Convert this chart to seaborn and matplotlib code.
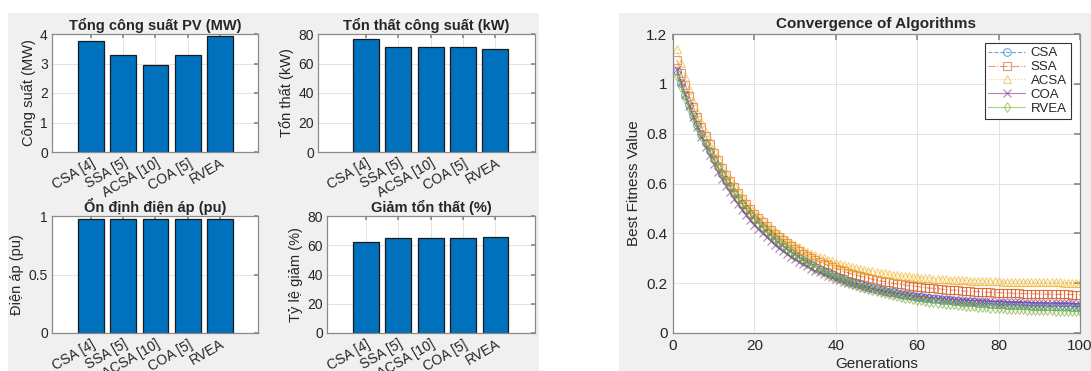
import seaborn as sns
import matplotlib.pyplot as plt
from matplotlib.patches import Rectangle

# Style: MATLAB-like look on top of seaborn whitegrid
sns.set_theme(style="whitegrid")
plt.rcParams['font.family'] = ['Liberation Sans', 'DejaVu Sans']
plt.rcParams['axes.edgecolor'] = '#8a8a8a'
plt.rcParams['grid.color'] = '#e3e3e3'
plt.rcParams['grid.linewidth'] = 0.7
plt.rcParams['xtick.color'] = '#8a8a8a'
plt.rcParams['ytick.color'] = '#8a8a8a'
plt.rcParams['xtick.labelcolor'] = '#262626'
plt.rcParams['ytick.labelcolor'] = '#262626'

# Data
algorithms = ['CSA [4]', 'SSA [5]', 'ACSA [10]', 'COA [5]', 'RVEA']
pv_power = [3.75, 3.28, 2.95, 3.28, 3.93]          # MW
power_loss = [76.7, 71.4, 71.4, 71.4, 70.1]        # kW
voltage = [0.975, 0.975, 0.975, 0.975, 0.975]      # pu
loss_reduction = [62.3, 65.0, 65.0, 65.0, 65.9]    # %

generations = list(range(1, 101))
csa = [1.050, 1.003, 0.957, 0.915, 0.874, 0.835, 0.798, 0.763, 0.730, 0.699,
       0.669, 0.640, 0.613, 0.588, 0.563, 0.540, 0.518, 0.497, 0.477, 0.459,
       0.441, 0.424, 0.407, 0.392, 0.377, 0.364, 0.350, 0.338, 0.326, 0.315,
       0.304, 0.294, 0.284, 0.275, 0.266, 0.258, 0.250, 0.243, 0.235, 0.229,
       0.222, 0.216, 0.210, 0.205, 0.199, 0.195, 0.190, 0.185, 0.181, 0.177,
       0.173, 0.170, 0.166, 0.163, 0.160, 0.157, 0.154, 0.151, 0.149, 0.146,
       0.144, 0.142, 0.140, 0.138, 0.136, 0.134, 0.132, 0.131, 0.129, 0.128,
       0.126, 0.125, 0.124, 0.123, 0.121, 0.120, 0.119, 0.118, 0.117, 0.116,
       0.115, 0.114, 0.113, 0.113, 0.112, 0.112, 0.111, 0.110, 0.110, 0.109,
       0.109, 0.109, 0.108, 0.108, 0.107, 0.107, 0.107, 0.106, 0.106, 0.106]
ssa = [1.096, 1.045, 0.997, 0.951, 0.908, 0.867, 0.828, 0.791, 0.757, 0.724,
       0.693, 0.663, 0.636, 0.609, 0.585, 0.561, 0.539, 0.518, 0.498, 0.479,
       0.461, 0.445, 0.429, 0.414, 0.399, 0.386, 0.373, 0.361, 0.350, 0.339,
       0.329, 0.319, 0.310, 0.301, 0.293, 0.285, 0.278, 0.271, 0.265, 0.258,
       0.253, 0.247, 0.242, 0.237, 0.232, 0.228, 0.223, 0.220, 0.216, 0.212,
       0.209, 0.206, 0.203, 0.200, 0.197, 0.195, 0.192, 0.190, 0.188, 0.186,
       0.184, 0.182, 0.180, 0.179, 0.177, 0.176, 0.174, 0.173, 0.172, 0.171,
       0.169, 0.168, 0.167, 0.166, 0.166, 0.165, 0.164, 0.163, 0.162, 0.162,
       0.161, 0.161, 0.160, 0.159, 0.159, 0.158, 0.158, 0.158, 0.157, 0.157,
       0.156, 0.156, 0.156, 0.155, 0.155, 0.155, 0.155, 0.154, 0.154, 0.154]
acsa = [1.139, 1.083, 1.029, 0.979, 0.932, 0.887, 0.846, 0.807, 0.770, 0.735,
        0.703, 0.672, 0.644, 0.617, 0.592, 0.568, 0.546, 0.525, 0.505, 0.487,
        0.469, 0.453, 0.438, 0.423, 0.410, 0.397, 0.385, 0.374, 0.363, 0.353,
        0.344, 0.335, 0.327, 0.319, 0.312, 0.305, 0.299, 0.293, 0.287, 0.282,
        0.277, 0.272, 0.268, 0.264, 0.260, 0.256, 0.253, 0.250, 0.247, 0.244,
        0.241, 0.239, 0.236, 0.234, 0.232, 0.230, 0.228, 0.227, 0.225, 0.224,
        0.222, 0.221, 0.220, 0.218, 0.217, 0.216, 0.215, 0.214, 0.213, 0.213,
        0.212, 0.211, 0.210, 0.210, 0.209, 0.209, 0.208, 0.208, 0.207, 0.207,
        0.206, 0.206, 0.206, 0.205, 0.205, 0.205, 0.204, 0.204, 0.204, 0.204,
        0.203, 0.203, 0.203, 0.203, 0.203, 0.202, 0.202, 0.202, 0.202, 0.202]
coa = [1.060, 1.007, 0.958, 0.911, 0.867, 0.825, 0.785, 0.748, 0.713, 0.680,
       0.648, 0.619, 0.591, 0.564, 0.539, 0.516, 0.494, 0.473, 0.453, 0.434,
       0.416, 0.400, 0.384, 0.369, 0.355, 0.341, 0.329, 0.317, 0.306, 0.295,
       0.285, 0.276, 0.267, 0.258, 0.250, 0.243, 0.236, 0.229, 0.223, 0.217,
       0.211, 0.206, 0.201, 0.196, 0.191, 0.187, 0.183, 0.179, 0.176, 0.172,
       0.169, 0.166, 0.163, 0.161, 0.158, 0.156, 0.154, 0.151, 0.149, 0.147,
       0.146, 0.144, 0.142, 0.141, 0.139, 0.138, 0.137, 0.136, 0.134, 0.133,
       0.132, 0.131, 0.130, 0.130, 0.129, 0.128, 0.127, 0.127, 0.126, 0.125,
       0.125, 0.124, 0.124, 0.123, 0.123, 0.122, 0.122, 0.122, 0.121, 0.121,
       0.121, 0.120, 0.120, 0.120, 0.119, 0.119, 0.119, 0.119, 0.118, 0.118]
rvea = [1.032, 0.987, 0.944, 0.903, 0.864, 0.826, 0.791, 0.757, 0.725, 0.694,
        0.665, 0.637, 0.611, 0.585, 0.561, 0.538, 0.517, 0.496, 0.476, 0.457,
        0.439, 0.422, 0.406, 0.390, 0.376, 0.361, 0.348, 0.335, 0.323, 0.312,
        0.301, 0.290, 0.280, 0.271, 0.262, 0.253, 0.245, 0.237, 0.229, 0.222,
        0.215, 0.209, 0.203, 0.197, 0.191, 0.186, 0.181, 0.176, 0.172, 0.167,
        0.163, 0.159, 0.155, 0.152, 0.148, 0.145, 0.142, 0.139, 0.136, 0.134,
        0.131, 0.129, 0.126, 0.124, 0.122, 0.120, 0.118, 0.116, 0.115, 0.113,
        0.111, 0.110, 0.108, 0.107, 0.106, 0.105, 0.103, 0.102, 0.101, 0.100,
        0.099, 0.098, 0.098, 0.097, 0.096, 0.095, 0.094, 0.094, 0.093, 0.092,
        0.092, 0.091, 0.091, 0.090, 0.090, 0.089, 0.089, 0.088, 0.088, 0.088]

series_names = ['CSA', 'SSA', 'ACSA', 'COA', 'RVEA']
series_values = [csa, ssa, acsa, coa, rvea]
series_colors = ['#0072BD', '#D95319', '#EDB120', '#7E2F8E', '#77AC30']
series_styles = ['--', '-.', ':', '-', '-']
series_markers = ['o', 's', '^', 'x', 'd']

W, H = 1091, 371
fig = plt.figure(figsize=(W / 100, H / 100), dpi=100)
fig.patch.set_facecolor('white')

# gray panels behind the two figure halves
for x0, x1 in [(8, 539), (619, 1091)]:
    fig.add_artist(Rectangle((x0 / W, 0), (x1 - x0) / W, (H - 13) / H,
                             transform=fig.transFigure, facecolor='#f0f0f0',
                             edgecolor='none', zorder=-10))


def px_axes(x0, y0, x1, y1):
    return fig.add_axes([x0 / W, 1 - y1 / H, (x1 - x0) / W, (y1 - y0) / H])


def bar_panel(ax, values, title, ylabel, ylim, yticks, yticklabels, xlim):
    sns.barplot(x=algorithms, y=values, ax=ax, color='#0072BD', saturation=1,
                edgecolor='#1a1a1a', linewidth=0.9, width=0.8, errorbar=None)
    ax.set_facecolor('white')
    ax.set_axisbelow(True)
    ax.grid(True, axis='both')
    ax.set_xlim(*xlim)
    ax.set_ylim(*ylim)
    ax.set_yticks(yticks, yticklabels)
    ax.set_xticks(range(len(algorithms)))
    ax.set_xticklabels(algorithms, rotation=30, ha='right', va='top',
                       rotation_mode='anchor')
    ax.tick_params(axis='both', direction='in', length=3, labelsize=10,
                   top=True, right=True, pad=3)
    ax.set_title(title, fontsize=10.5, fontweight='bold', pad=3)
    ax.set_ylabel(ylabel, fontsize=10.5, color='#262626', labelpad=3)
    ax.set_xlabel('')
    for s in ax.spines.values():
        s.set_color('#8a8a8a')
        s.set_linewidth(0.9)


ax1 = px_axes(52, 34, 258, 152)
bar_panel(ax1, pv_power, 'Tổng công suất PV (MW)', 'Công suất (MW)',
          (0, 4), [0, 1, 2, 3, 4], ['0', '1', '2', '3', '4'], (-1.2, 5.17))
ax2 = px_axes(318, 34, 535, 152)
bar_panel(ax2, power_loss, 'Tổn thất công suất (kW)', 'Tổn thất (kW)',
          (0, 80), [0, 20, 40, 60, 80], ['0', '20', '40', '60', '80'], (-1.47, 5.22))
ax3 = px_axes(52, 216, 258, 333)
bar_panel(ax3, voltage, 'Ổn định điện áp (pu)', 'Điện áp (pu)',
          (0, 1), [0, 0.5, 1], ['0', '0.5', '1'], (-1.2, 5.17))
ax4 = px_axes(327, 216, 535, 333)
bar_panel(ax4, loss_reduction, 'Giảm tổn thất (%)', 'Tỷ lệ giảm (%)',
          (0, 80), [0, 20, 40, 60, 80], ['0', '20', '40', '60', '80'], (-1.2, 5.22))

# Convergence curves
ax5 = px_axes(673, 34, 1080, 333)
ax5.set_facecolor('white')
for name, vals, c, ls, mk in zip(series_names, series_values, series_colors,
                                 series_styles, series_markers):
    sns.lineplot(x=generations, y=vals, ax=ax5, color=c, linestyle=ls,
                 marker=mk, markersize=5.5, markerfacecolor='none',
                 markeredgecolor=c, markeredgewidth=0.8, linewidth=0.8,
                 alpha=0.6, label=name)
ax5.set_xlim(0, 100)
ax5.set_ylim(0, 1.2)
ax5.set_xticks([0, 20, 40, 60, 80, 100])
ax5.set_yticks([0, 0.2, 0.4, 0.6, 0.8, 1.0, 1.2],
               ['0', '0.2', '0.4', '0.6', '0.8', '1', '1.2'])
ax5.grid(True)
ax5.tick_params(axis='both', direction='in', length=4, labelsize=11,
                top=True, right=True, pad=4)
ax5.set_title('Convergence of Algorithms', fontsize=11, fontweight='bold', pad=4)
ax5.set_xlabel('Generations', fontsize=11, color='#262626', labelpad=3)
ax5.set_ylabel('Best Fitness Value', fontsize=11, color='#262626', labelpad=4)
for s in ax5.spines.values():
    s.set_color('#8a8a8a')
    s.set_linewidth(0.9)
leg = ax5.legend(loc='upper right', fontsize=9.5, frameon=True, fancybox=False,
                 edgecolor='#333333', framealpha=1, handlelength=2.8,
                 borderaxespad=0.7, labelspacing=0.12, borderpad=0.3,
                 handletextpad=0.4)
leg.get_frame().set_linewidth(0.8)

plt.savefig('out.png', dpi=100)
